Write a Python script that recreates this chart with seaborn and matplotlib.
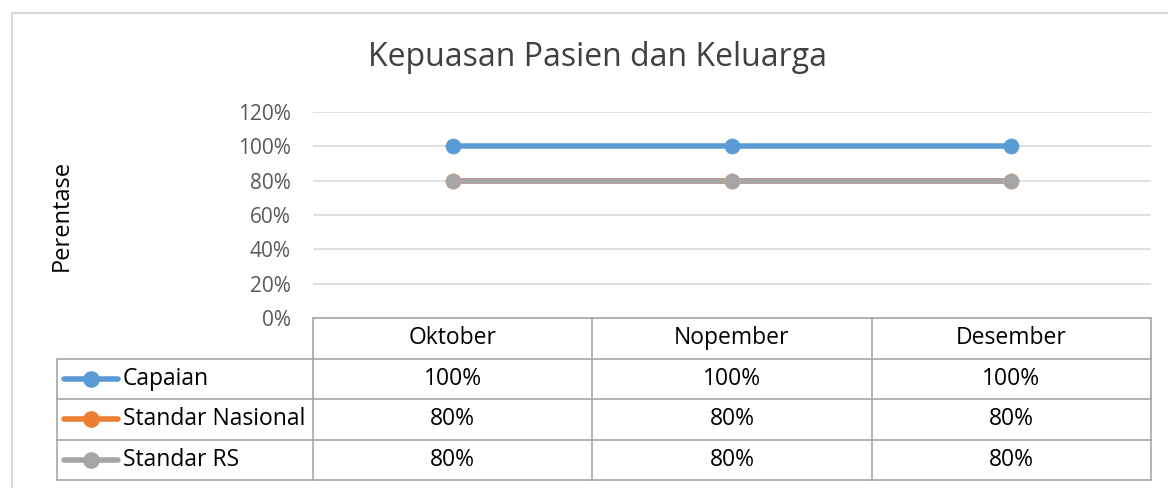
import matplotlib
matplotlib.use("Agg")
import matplotlib.pyplot as plt
import seaborn as sns
import pandas as pd
import numpy as np
from matplotlib.patches import Rectangle
from matplotlib.lines import Line2D

categories = ["Oktober", "Nopember", "Desember"]
capaian = [1.00, 1.00, 1.00]
standar_nasional = [0.80, 0.80, 0.80]
standar_rs = [0.80, 0.80, 0.80]
series_names = ["Capaian", "Standar Nasional", "Standar RS"]
yticks = [0.0, 0.2, 0.4, 0.6, 0.8, 1.0, 1.2]
title = "Kepuasan Pasien dan Keluarga"
ylabel = "Perentase"

colors = ["#5B9BD5", "#ED7D31", "#A5A5A5"]

sns.set_theme(style="white")
plt.rcParams['font.family'] = ['Open Sans', 'DejaVu Sans']

W, H = 1168, 488
fig = plt.figure(figsize=(W / 100, H / 100), dpi=100)

def fx(px):
    return px / W

def fy(py):
    return 1 - py / H

# chart border
fig.patches.append(Rectangle((fx(12), -0.2), 1.2, fy(13) + 0.2, transform=fig.transFigure,
                             fill=False, edgecolor="#D9D9D9", linewidth=1.5))

ax = fig.add_axes([fx(313), fy(318), fx(1151) - fx(313), fy(112) - fy(318)])

df = pd.DataFrame({
    "Bulan": categories * 3,
    "x": list(range(len(categories))) * 3,
    "Nilai": capaian + standar_nasional + standar_rs,
    "Seri": [s for s in series_names for _ in categories],
})

sns.lineplot(data=df, x="x", y="Nilai", hue="Seri", palette=colors, marker="o",
             markersize=11, linewidth=4, markeredgewidth=0.3, ax=ax, legend=False,
             hue_order=series_names)
for ln, c in zip(ax.lines, colors):
    ln.set_markeredgecolor("#D9B8A0" if c == "#A5A5A5" else c)
    ln.set_solid_capstyle("butt")

ax.set_xlim(-0.5, len(categories) - 0.5)
ax.set_ylim(0, 1.2)
ax.set_yticks(yticks)
ax.set_yticklabels([f"{int(round(v*100))}%" for v in yticks], fontsize=15, color="#595959")
ax.set_xticks([])
ax.set_xlabel("")
ax.set_ylabel("")
ax.yaxis.grid(True, color="#D9D9D9", linewidth=1.2)
for s in ax.spines.values():
    s.set_visible(False)
ax.tick_params(axis="y", length=0, pad=16)

fig.text(fx(597), fy(58), title, ha="center", va="center", fontsize=23, color="#404040")
fig.text(fx(62), fy(215), ylabel, ha="center", va="center", rotation=90, fontsize=17, color="#000000")

# data table
tax = fig.add_axes([fx(313), fy(480), fx(1151) - fx(313), fy(318) - fy(480)])
n = len(categories)
nrows = len(series_names) + 1
tax.set_xlim(-0.5, n - 0.5)
tax.set_ylim(nrows, 0)
tax.axis("off")
lc = "#A6A6A6"
lw = 1.2
left = -0.5 - (313 - 57) / ((1151 - 313) / n)
# vertical lines in value area
for i in range(n + 1):
    tax.add_line(Line2D([i - 0.5, i - 0.5], [0, nrows], color=lc, lw=lw, clip_on=False))
tax.add_line(Line2D([left, left], [1, nrows], color=lc, lw=lw, clip_on=False))
# horizontal lines
tax.add_line(Line2D([-0.5, n - 0.5], [0, 0], color=lc, lw=lw, clip_on=False))
for r in range(1, nrows + 1):
    tax.add_line(Line2D([left, n - 0.5], [r, r], color=lc, lw=lw, clip_on=False))

fs = 16.5
for i, c in enumerate(categories):
    tax.text(i, 0.5, c, ha="center", va="center", fontsize=fs, color="#000000")
for r, (name, vals, col) in enumerate(zip(series_names, [capaian, standar_nasional, standar_rs], colors), start=1):
    for i, v in enumerate(vals):
        tax.text(i, r + 0.5, f"{int(round(v*100))}%", ha="center", va="center", fontsize=fs, color="#000000")
    unit = 1.0 / ((1151 - 313) / n)
    x0 = left + 7 * unit
    x1 = left + 61 * unit
    tax.add_line(Line2D([x0, x1], [r + 0.5, r + 0.5], color=col, lw=4, clip_on=False,
                        solid_capstyle="round"))
    tax.add_line(Line2D([(x0 + x1) / 2], [r + 0.5], color=col, marker="o", markersize=11,
                        clip_on=False, linestyle="none"))
    tax.text(left + 66 * unit, r + 0.5, name, ha="left", va="center", fontsize=fs, color="#000000")

fig.savefig("out.png", dpi=100)
